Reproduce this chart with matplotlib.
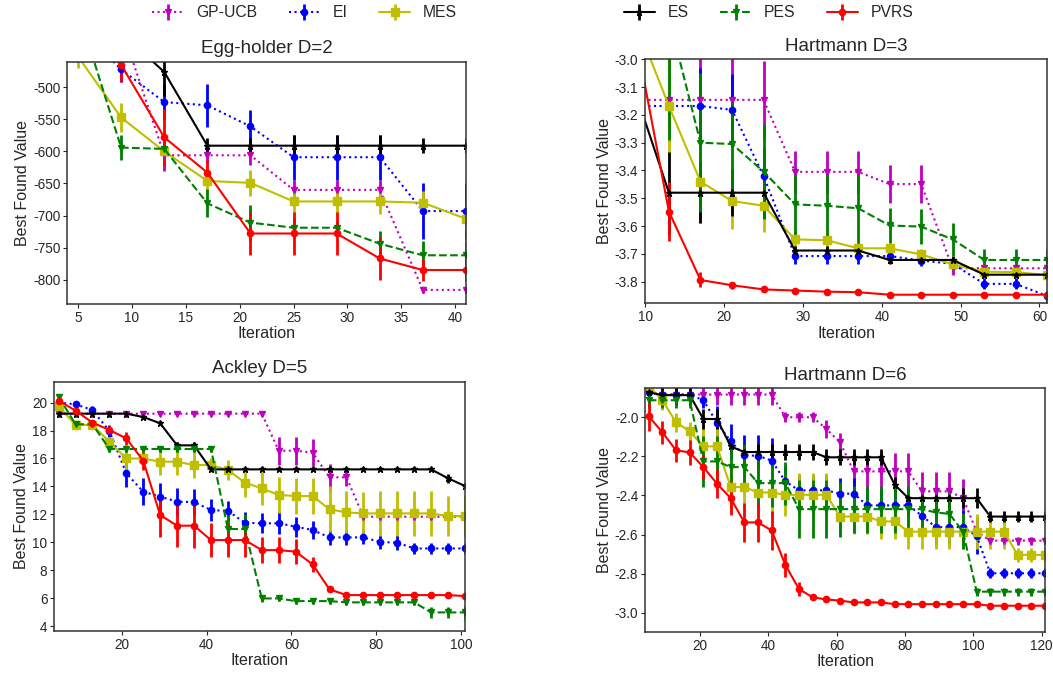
import matplotlib
matplotlib.use('Agg')
import matplotlib.pyplot as plt
from matplotlib.ticker import MultipleLocator

plt.style.use('seaborn-v0_8-ticks')
plt.rcParams['font.family'] = 'Liberation Sans'
plt.rcParams['axes.unicode_minus'] = False

# --- data ---
methods = ['GP-UCB', 'EI', 'MES', 'ES', 'PES', 'PVRS']

# Egg-holder D=2
egg_x = [5, 9, 13, 17, 21, 25, 29, 33, 37, 41]
egg_mean = {
    'GP-UCB': [-390, -405, -606, -606, -606, -660, -660, -660, -816, -816],
    'EI':     [-405, -472, -523, -528, -561, -609, -609, -609, -693, -693],
    'MES':    [-452, -547, -600, -646, -649, -678, -678, -678, -680, -705],
    'ES':     [-380, -415, -476, -591, -591, -591, -591, -591, -591, -591],
    'PES':    [-380, -594, -596, -681, -711, -719, -719, -744, -762, -762],
    'PVRS':   [-400, -465, -578, -633, -728, -728, -728, -767, -785, -785],
}
egg_err = {
    'GP-UCB': [10, 15, 25, 12, 15, 15, 15, 15, 5, 5],
    'EI':     [10, 20, 28, 34, 26, 35, 35, 35, 43, 43],
    'MES':    [18, 23, 10, 20, 20, 20, 20, 20, 18, 18],
    'ES':     [10, 20, 38, 12, 12, 17, 17, 17, 12, 12],
    'PES':    [15, 20, 8, 22, 28, 15, 10, 20, 23, 23],
    'PVRS':   [15, 26, 44, 20, 34, 34, 34, 33, 17, 17],
}

# Hartmann D=3
h3_x = [9, 13, 17, 21, 25, 29, 33, 37, 41, 45, 49, 53, 57, 61]
h3_mean = {
    'GP-UCB': [-3.146, -3.146, -3.146, -3.146, -3.146, -3.405, -3.405, -3.405, -3.449, -3.449, -3.752, -3.752, -3.752, -3.752],
    'EI':     [-3.168, -3.168, -3.168, -3.182, -3.42, -3.708, -3.708, -3.708, -3.708, -3.724, -3.736, -3.808, -3.808, -3.852],
    'MES':    [-2.88, -3.168, -3.44, -3.51, -3.527, -3.648, -3.651, -3.68, -3.68, -3.702, -3.738, -3.764, -3.766, -3.776],
    'ES':     [-3.14, -3.48, -3.48, -3.48, -3.48, -3.688, -3.688, -3.688, -3.722, -3.722, -3.722, -3.775, -3.775, -3.775],
    'PES':    [-2.6, -2.85, -3.30, -3.305, -3.404, -3.522, -3.527, -3.536, -3.598, -3.602, -3.648, -3.722, -3.722, -3.722],
    'PVRS':   [-2.95, -3.548, -3.794, -3.813, -3.828, -3.832, -3.836, -3.838, -3.847, -3.847, -3.847, -3.847, -3.847, -3.847],
}
h3_err = {
    'GP-UCB': [0.02, 0.15, 0.15, 0.15, 0.14, 0.075, 0.075, 0.075, 0.068, 0.068, 0.025, 0.012, 0.012, 0.012],
    'EI':     [0.02, 0.03, 0.135, 0.13, 0.1, 0.03, 0.03, 0.03, 0.02, 0.02, 0.02, 0.02, 0.02, 0.02],
    'MES':    [0.1, 0.18, 0.15, 0.1, 0.095, 0.03, 0.025, 0.02, 0.02, 0.02, 0.02, 0.015, 0.015, 0.015],
    'ES':     [0.05, 0.147, 0.11, 0.085, 0.09, 0.015, 0.015, 0.015, 0.015, 0.015, 0.015, 0.01, 0.01, 0.01],
    'PES':    [0.3, 0.44, 0.25, 0.16, 0.17, 0.13, 0.13, 0.13, 0.063, 0.063, 0.06, 0.04, 0.04, 0.04],
    'PVRS':   [0.05, 0.105, 0.027, 0.012, 0.006, 0.005, 0.005, 0.005, 0.005, 0.005, 0.005, 0.005, 0.005, 0.005],
}

# Ackley D=5
ack_x = [5, 9, 13, 17, 21, 25, 29, 33, 37, 41, 45, 49, 53, 57, 61, 65, 69, 73, 77, 81, 85, 89, 93, 97, 101]
ack_mean = {
    'GP-UCB': [19.21, 19.21, 19.21, 19.21, 19.21, 19.21, 19.21, 19.21, 19.21, 19.21, 19.21, 19.21, 19.21,
               16.56, 16.56, 16.42, 14.65, 14.65, 11.83, 11.83, 11.83, 11.83, 11.83, 11.83, 11.83],
    'EI':     [20.0, 19.88, 19.47, 17.97, 14.94, 13.62, 13.27, 12.91, 12.88, 12.31, 12.24, 11.40, 11.36,
               11.36, 11.12, 10.88, 10.35, 10.35, 10.35, 10.02, 9.97, 9.56, 9.56, 9.56, 9.56],
    'MES':    [19.76, 18.4, 18.4, 17.2, 16.0, 16.0, 15.77, 15.77, 15.53, 15.53, 15.18, 14.27, 13.86,
               13.39, 13.31, 13.31, 12.36, 12.14, 12.07, 12.07, 12.07, 12.07, 12.07, 11.88, 11.88],
    'ES':     [19.21, 19.21, 19.21, 19.21, 19.21, 18.97, 18.52, 16.94, 16.94, 15.22, 15.22, 15.22, 15.22,
               15.22, 15.22, 15.22, 15.22, 15.22, 15.22, 15.22, 15.22, 15.22, 15.22, 14.58, 14.03],
    'PES':    [20.43, 18.45, 18.45, 16.68, 16.68, 16.68, 16.68, 16.68, 16.68, 16.68, 10.95, 10.95, 5.98,
               5.98, 5.79, 5.79, 5.79, 5.70, 5.70, 5.70, 5.70, 5.70, 4.98, 4.98, 4.98],
    'PVRS':   [20.14, 19.43, 18.57, 18.04, 17.44, 15.84, 11.95, 11.19, 11.19, 10.16, 10.16, 10.16, 9.44,
               9.44, 9.33, 8.42, 6.63, 6.22, 6.22, 6.22, 6.22, 6.22, 6.22, 6.22, 6.15],
}
ack_err = {
    'GP-UCB': [0.1, 0.1, 0.1, 0.1, 0.1, 0.1, 0.1, 0.1, 0.1, 0.1, 0.1, 0.1, 0.1,
               1.0, 1.0, 0.95, 0.95, 0.6, 0.1, 0.1, 0.1, 0.1, 0.1, 0.1, 0.1],
    'EI':     [0.15, 0.15, 0.3, 0.4, 0.95, 0.95, 1.0, 1.0, 0.95, 0.78, 0.7, 0.78, 0.72,
               0.78, 0.72, 0.65, 0.55, 0.55, 0.5, 0.48, 0.53, 0.42, 0.42, 0.42, 0.42],
    'MES':    [0.3, 0.3, 0.2, 0.3, 0.85, 0.5, 0.95, 0.95, 0.9, 0.5, 0.7, 1.0, 1.2,
               1.3, 1.3, 1.3, 1.65, 1.5, 1.55, 1.6, 1.6, 1.6, 1.6, 1.4, 1.45],
    'ES':     [0.15, 0.15, 0.15, 0.15, 0.15, 0.15, 0.15, 0.25, 0.25, 0.15, 0.15, 0.15, 0.15,
               0.15, 0.15, 0.15, 0.15, 0.15, 0.15, 0.15, 0.15, 0.15, 0.15, 0.3, 0.15],
    'PES':    [0.2, 0.2, 0.2, 0.2, 0.2, 0.2, 0.2, 0.2, 0.2, 0.2, 1.07, 1.07, 0.25,
               0.2, 0.2, 0.2, 0.2, 0.2, 0.2, 0.2, 0.2, 0.2, 0.4, 0.4, 0.45],
    'PVRS':   [0.2, 0.2, 0.2, 0.3, 0.45, 0.65, 1.55, 1.55, 1.6, 1.2, 1.2, 1.2, 0.95,
               0.95, 0.9, 0.55, 0.2, 0.15, 0.15, 0.15, 0.15, 0.15, 0.15, 0.15, 0.15],
}

# Hartmann D=6
h6_x = [5, 9, 13, 17, 21, 25, 29, 33, 37, 41, 45, 49, 53, 57, 61,
        65, 69, 73, 77, 81, 85, 89, 93, 97, 101, 105, 109, 113, 117, 121]
h6_mean = {
    'GP-UCB': [-1.872, -1.884, -1.884, -1.884, -1.884, -1.884, -1.884, -1.884, -1.884, -1.884,
               -2.0, -2.0, -2.0, -2.06, -2.128, -2.277, -2.277, -2.277, -2.277, -2.277,
               -2.379, -2.379, -2.379, -2.414, -2.585, -2.631, -2.631, -2.631, -2.631, -2.631],
    'EI':     [-1.872, -1.884, -1.884, -1.884, -1.913, -2.029, -2.123, -2.195, -2.197, -2.222,
               -2.328, -2.374, -2.374, -2.374, -2.391, -2.391, -2.451, -2.451, -2.451, -2.451,
               -2.504, -2.562, -2.562, -2.562, -2.607, -2.798, -2.798, -2.798, -2.798, -2.798],
    'MES':    [-1.84, -1.913, -2.026, -2.072, -2.149, -2.149, -2.357, -2.357, -2.385, -2.385,
               -2.397, -2.397, -2.397, -2.397, -2.508, -2.508, -2.508, -2.533, -2.533, -2.585,
               -2.585, -2.585, -2.585, -2.585, -2.585, -2.585, -2.585, -2.704, -2.704, -2.704],
    'ES':     [-1.872, -1.887, -1.887, -1.887, -2.009, -2.009, -2.149, -2.178, -2.178, -2.178,
               -2.178, -2.178, -2.178, -2.205, -2.205, -2.205, -2.205, -2.205, -2.345, -2.414,
               -2.414, -2.414, -2.414, -2.414, -2.414, -2.508, -2.508, -2.508, -2.508, -2.508],
    'PES':    [-1.913, -1.913, -1.913, -1.913, -2.226, -2.226, -2.255, -2.255, -2.337, -2.337,
               -2.337, -2.47, -2.47, -2.47, -2.47, -2.47, -2.47, -2.47, -2.47, -2.47,
               -2.47, -2.487, -2.494, -2.585, -2.892, -2.892, -2.892, -2.892, -2.892, -2.892],
    'PVRS':   [-1.995, -2.077, -2.169, -2.18, -2.255, -2.34, -2.414, -2.538, -2.538, -2.579,
               -2.756, -2.879, -2.921, -2.932, -2.938, -2.947, -2.947, -2.947, -2.956, -2.956,
               -2.956, -2.956, -2.956, -2.956, -2.956, -2.964, -2.964, -2.964, -2.964, -2.964],
}
h6_err = {
    'GP-UCB': [0.03, 0.055, 0.055, 0.055, 0.055, 0.055, 0.055, 0.055, 0.055, 0.055,
               0.025, 0.025, 0.025, 0.045, 0.045, 0.095, 0.095, 0.095, 0.095, 0.095,
               0.1, 0.1, 0.1, 0.1, 0.03, 0.02, 0.02, 0.02, 0.02, 0.02],
    'EI':     [0.03, 0.04, 0.04, 0.04, 0.04, 0.085, 0.09, 0.105, 0.105, 0.115,
               0.08, 0.08, 0.08, 0.08, 0.08, 0.08, 0.08, 0.08, 0.08, 0.08,
               0.08, 0.09, 0.09, 0.09, 0.09, 0.025, 0.025, 0.025, 0.025, 0.025],
    'MES':    [0.05, 0.05, 0.05, 0.05, 0.12, 0.11, 0.12, 0.12, 0.12, 0.12,
               0.11, 0.11, 0.11, 0.11, 0.09, 0.09, 0.09, 0.09, 0.09, 0.09,
               0.09, 0.09, 0.09, 0.09, 0.09, 0.09, 0.09, 0.035, 0.035, 0.035],
    'ES':     [0.03, 0.05, 0.05, 0.05, 0.05, 0.05, 0.04, 0.04, 0.04, 0.04,
               0.04, 0.04, 0.04, 0.04, 0.04, 0.04, 0.04, 0.04, 0.04, 0.05,
               0.05, 0.05, 0.05, 0.05, 0.05, 0.03, 0.03, 0.03, 0.03, 0.03],
    'PES':    [0.04, 0.04, 0.04, 0.04, 0.13, 0.13, 0.12, 0.12, 0.12, 0.12,
               0.11, 0.15, 0.15, 0.15, 0.14, 0.12, 0.12, 0.12, 0.12, 0.12,
               0.12, 0.12, 0.115, 0.09, 0.02, 0.02, 0.02, 0.02, 0.02, 0.02],
    'PVRS':   [0.075, 0.06, 0.06, 0.065, 0.06, 0.075, 0.085, 0.1, 0.1, 0.1,
               0.06, 0.035, 0.015, 0.01, 0.01, 0.01, 0.01, 0.01, 0.01, 0.01,
               0.01, 0.01, 0.01, 0.01, 0.01, 0.01, 0.01, 0.01, 0.01, 0.01],
}

# --- styling per method ---
styles = {
    'GP-UCB': dict(color='m', ls=':', marker='v', ms=4.5),
    'EI':     dict(color='b', ls=':', marker='o', ms=4.5),
    'MES':    dict(color='y', ls='-', marker='s', ms=6),
    'ES':     dict(color='k', ls='-', marker='*', ms=4.5),
    'PES':    dict(color='g', ls='--', marker='v', ms=4.5),
    'PVRS':   dict(color='r', ls='-', marker='o', ms=4.5),
}

panels = [
    ('Egg-holder D=2', egg_x, egg_mean, egg_err, (4, 41), (-838, -460), None, [0.0639, 0.5503, 0.3786, 0.3584]),
    ('Hartmann D=3', h3_x, h3_mean, h3_err, (10, 61), (-3.878, -3.0), 0.1, [0.6128, 0.5513, 0.3818, 0.3610]),
    ('Ackley D=5', ack_x, ack_mean, ack_err, (4, 101), (3.67, 21.5), None, [0.0516, 0.0670, 0.3900, 0.3684]),
    ('Hartmann D=6', h6_x, h6_mean, h6_err, (4, 121), (-3.097, -1.853), None, [0.6128, 0.0655, 0.3796, 0.3598]),
]

fig = plt.figure(figsize=(10.53, 6.76), dpi=100)

handles = []
for title, x, means, errs, xlim, ylim, ystep, pos in panels:
    ax = fig.add_axes(pos)
    hs = []
    for m in methods:
        st = styles[m]
        h = ax.errorbar(x, means[m], yerr=errs[m], color=st['color'], ls=st['ls'],
                        marker=st['marker'], ms=st['ms'], lw=1.5, elinewidth=2,
                        capsize=0, label=m)
        hs.append(h)
    if not handles:
        handles = hs
    ax.set_xlim(*xlim)
    ax.set_ylim(*ylim)
    if ystep:
        ax.yaxis.set_major_locator(MultipleLocator(ystep))
    ax.set_title(title, fontsize=13.5, color='.15')
    ax.set_xlabel('Iteration', fontsize=11.5, labelpad=1)
    ax.set_ylabel('Best Found Value', fontsize=11.5, labelpad=2)
    ax.tick_params(labelsize=9.8, length=3, width=0.8, pad=2, colors='.15')
    for sp in ax.spines.values():
        sp.set_color('.2')
        sp.set_linewidth(1.1)

fig.legend(handles[:3], methods[:3], loc='center', bbox_to_anchor=(0.2892, 0.9812),
           ncol=3, frameon=False, fontsize=11.3)
fig.legend(handles[3:], methods[3:], loc='center', bbox_to_anchor=(0.7298, 0.9812),
           ncol=3, frameon=False, fontsize=11.3)

fig.savefig('out.png', dpi=100)
